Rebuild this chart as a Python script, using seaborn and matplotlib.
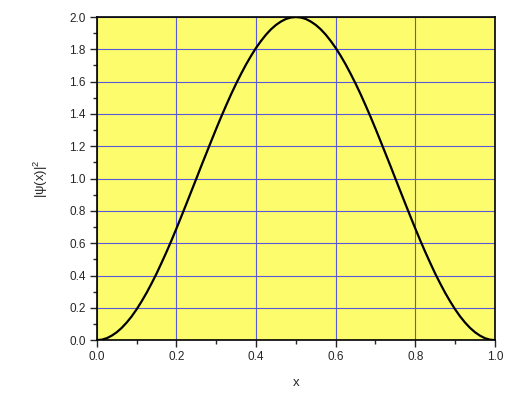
import numpy as np
import pandas as pd
import matplotlib
matplotlib.use("Agg")
import matplotlib.pyplot as plt
import seaborn as sns
from matplotlib.ticker import MultipleLocator

# Values (left half, x = 0 .. 0.5)
x_left = [0.0, 0.0125, 0.025, 0.0375, 0.05, 0.0625, 0.075, 0.0875, 0.1, 0.1125,
          0.125, 0.1375, 0.15, 0.1625, 0.175, 0.1875, 0.2, 0.2125, 0.225, 0.2375,
          0.25, 0.2625, 0.275, 0.2875, 0.3, 0.3125, 0.325, 0.3375, 0.35, 0.3625,
          0.375, 0.3875, 0.4, 0.4125, 0.425, 0.4375, 0.45, 0.4625, 0.475, 0.4875, 0.5]
psi2_left = [0.0, 0.003, 0.012, 0.028, 0.049, 0.076, 0.109, 0.147, 0.191, 0.240,
             0.293, 0.351, 0.412, 0.478, 0.546, 0.617, 0.691, 0.767, 0.844, 0.922,
             1.0, 1.079, 1.156, 1.233, 1.309, 1.383, 1.454, 1.523, 1.588, 1.649,
             1.707, 1.760, 1.809, 1.852, 1.891, 1.924, 1.951, 1.972, 1.988, 1.997, 2.0]
# right half (x = 0.5125 .. 1.0) (mirror of the left)
x_right = [0.5125, 0.525, 0.5375, 0.55, 0.5625, 0.575, 0.5875, 0.6, 0.6125, 0.625,
           0.6375, 0.65, 0.6625, 0.675, 0.6875, 0.7, 0.7125, 0.725, 0.7375, 0.75,
           0.7625, 0.775, 0.7875, 0.8, 0.8125, 0.825, 0.8375, 0.85, 0.8625, 0.875,
           0.8875, 0.9, 0.9125, 0.925, 0.9375, 0.95, 0.9625, 0.975, 0.9875, 1.0]
psi2_right = [1.997, 1.988, 1.972, 1.951, 1.924, 1.891, 1.852, 1.809, 1.760, 1.707,
              1.649, 1.588, 1.523, 1.454, 1.383, 1.309, 1.233, 1.156, 1.079, 1.0,
              0.922, 0.844, 0.767, 0.691, 0.617, 0.546, 0.478, 0.412, 0.351, 0.293,
              0.240, 0.191, 0.147, 0.109, 0.076, 0.049, 0.028, 0.012, 0.003, 0.0]
x_ticks = [0.0, 0.2, 0.4, 0.6, 0.8, 1.0]
y_ticks = [0.0, 0.2, 0.4, 0.6, 0.8, 1.0, 1.2, 1.4, 1.6, 1.8, 2.0]

sns.set_style("ticks")
plt.rcParams['font.family'] = ['Liberation Sans', 'DejaVu Sans']
plt.rcParams['mathtext.default'] = 'regular'

df = pd.DataFrame({"x": x_left + x_right, "y": psi2_left + psi2_right})

fig = plt.figure(figsize=(5.15, 3.96), dpi=100)
ax = fig.add_axes([0.188, 0.141, 0.773, 0.816])
ax.set_facecolor('#fcfc6c')

sns.lineplot(data=df, x="x", y="y", ax=ax, color='black', linewidth=1.6, zorder=3)

ax.set_xlim(0, 1)
ax.set_ylim(0, 2)
ax.set_xticks(x_ticks)
ax.set_yticks(y_ticks)
ax.set_xticklabels([f"{v:.1f}" for v in x_ticks])
ax.set_yticklabels([f"{v:.1f}" for v in y_ticks])
ax.xaxis.set_minor_locator(MultipleLocator(0.1))
ax.yaxis.set_minor_locator(MultipleLocator(0.1))
ax.grid(True, which='major', color='#5a5ad8', linewidth=0.8, zorder=1)
ax.set_axisbelow(True)

ax.tick_params(which='major', direction='out', length=5, width=1, labelsize=8.5, pad=3,
               top=False, right=False)
ax.tick_params(which='minor', direction='out', length=3, width=1, top=False, right=False)
for s in ax.spines.values():
    s.set_visible(True)
    s.set_linewidth(1.2)
    s.set_color('black')

ax.set_xlabel("x", fontsize=9.5, labelpad=10)
ax.set_ylabel("|ψ(x)|$^{2}$", fontsize=9.5, labelpad=14)

fig.savefig("out.png", dpi=100)
